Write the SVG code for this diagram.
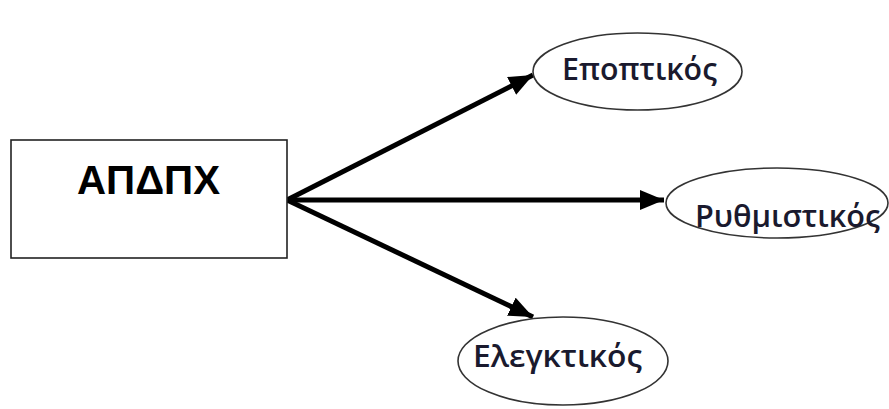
<svg xmlns="http://www.w3.org/2000/svg" width="889" height="409" viewBox="0 0 889 409">
  <style>
    .box { fill: #fff; stroke: #222; stroke-width: 1.6; }
    .oval { fill: #fff; stroke: #333; stroke-width: 1.6; }
    .main { font-family: "Liberation Sans", Arial, sans-serif; font-size: 40px; font-weight: bold; fill: #000; }
    .lbl { font-family: "Open Sans", "Noto Sans", sans-serif; font-size: 31px; font-weight: 600; fill: #1a1a2e; }
    .arrow { stroke: #000; stroke-width: 5; fill: none; marker-end: url(#ah); }
  </style>
  <defs>
    <marker id="ah" markerUnits="userSpaceOnUse" markerWidth="26" markerHeight="22" refX="24" refY="10" orient="auto">
      <path d="M0,0 L24,10 L0,20 Z" fill="#000"/>
    </marker>
  </defs>
  <rect width="889" height="409" fill="#fff"/>
  <g id="connectors">
    <line class="arrow" x1="287" y1="200" x2="533" y2="75"/>
    <line class="arrow" x1="287" y1="200" x2="664" y2="200"/>
    <line class="arrow" x1="287" y1="200" x2="533" y2="317"/>
  </g>
  <g id="node-apdpx">
    <rect class="box" x="11" y="140" width="276" height="118"/>
    <text class="main" x="148.5" y="194" text-anchor="middle" textLength="143" lengthAdjust="spacingAndGlyphs">ΑΠΔΠΧ</text>
  </g>
  <g id="node-epoptikos">
    <ellipse class="oval" cx="637.5" cy="71.5" rx="104.5" ry="38.5"/>
    <text class="lbl" x="562" y="80" textLength="155" lengthAdjust="spacingAndGlyphs">Εποπτικός</text>
  </g>
  <g id="node-rythmistikos">
    <ellipse class="oval" cx="777" cy="203" rx="111" ry="35"/>
    <text class="lbl" x="695" y="227" textLength="185" lengthAdjust="spacingAndGlyphs">Ρυθμιστικός</text>
  </g>
  <g id="node-elegktikos">
    <ellipse class="oval" cx="563" cy="361" rx="105" ry="44"/>
    <text class="lbl" x="473" y="367" textLength="169" lengthAdjust="spacingAndGlyphs">Ελεγκτικός</text>
  </g>
</svg>
